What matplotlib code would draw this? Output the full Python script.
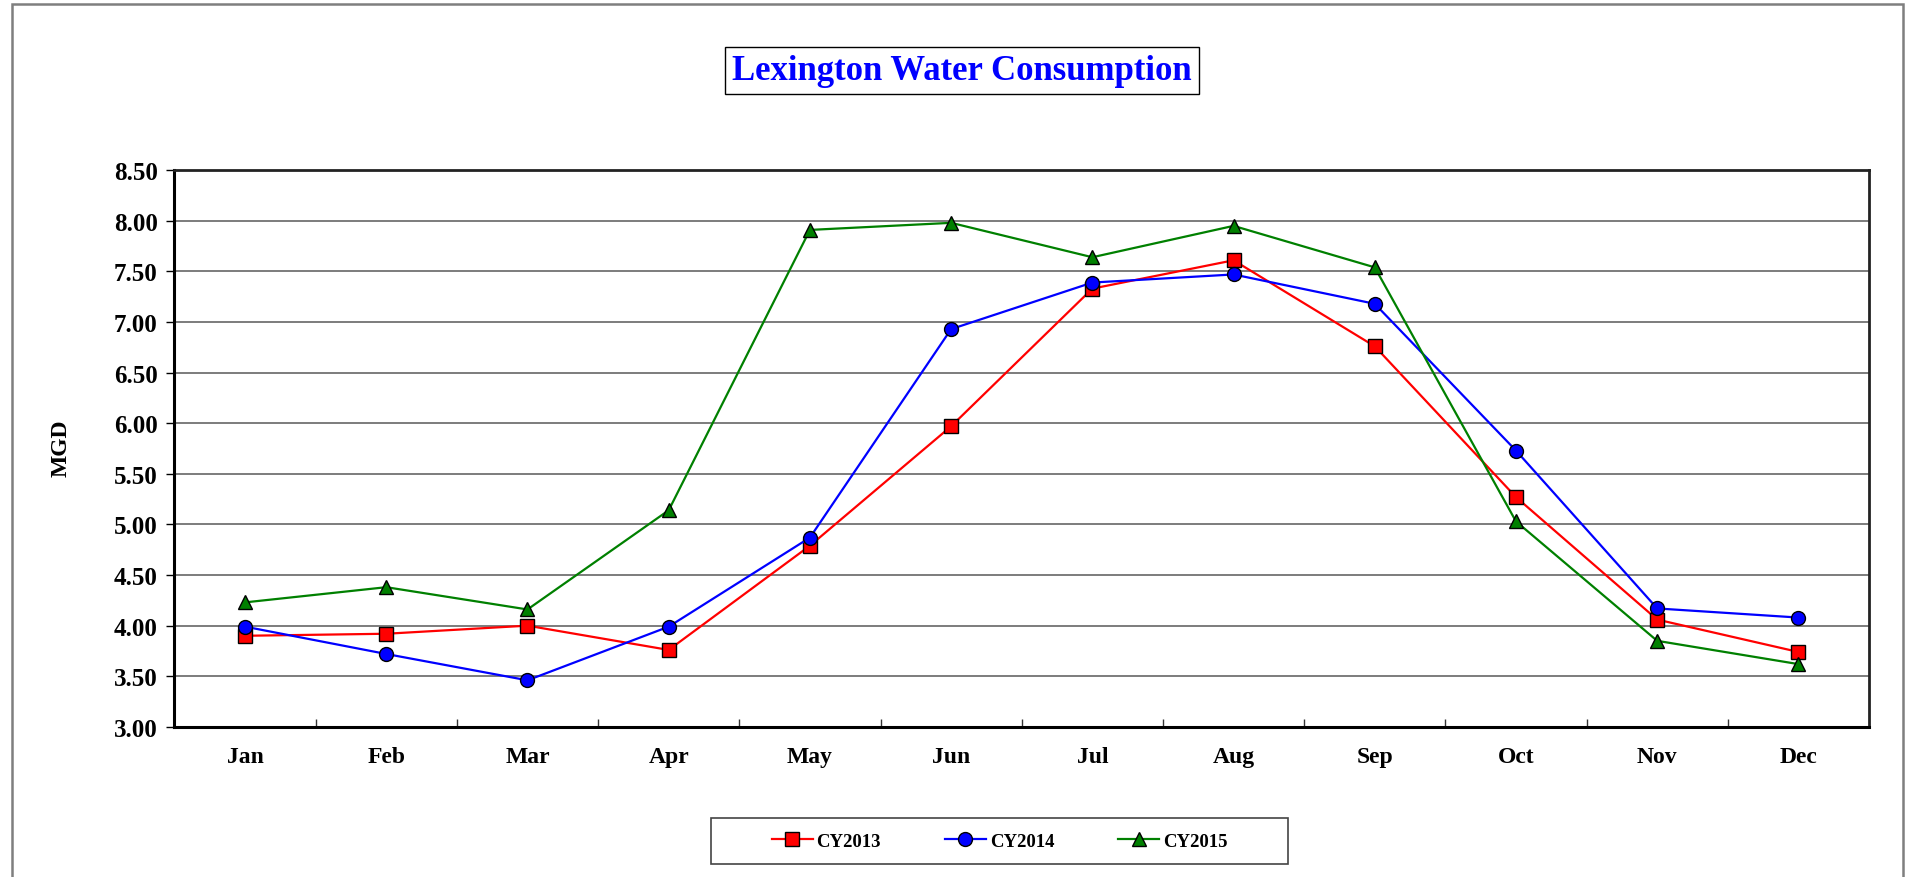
import matplotlib
matplotlib.use("Agg")
import matplotlib.pyplot as plt
from matplotlib.patches import Rectangle
from matplotlib.ticker import FixedLocator

months = ["Jan", "Feb", "Mar", "Apr", "May", "Jun", "Jul", "Aug", "Sep", "Oct", "Nov", "Dec"]
cy2013 = [3.90, 3.92, 4.00, 3.76, 4.79, 5.97, 7.33, 7.61, 6.76, 5.27, 4.06, 3.74]
cy2014 = [3.99, 3.72, 3.46, 3.99, 4.87, 6.93, 7.39, 7.47, 7.18, 5.73, 4.17, 4.08]
cy2015 = [4.23, 4.38, 4.16, 5.14, 7.91, 7.98, 7.64, 7.95, 7.54, 5.03, 3.85, 3.62]
series_names = ["CY2013", "CY2014", "CY2015"]
yticks = [3.0, 3.5, 4.0, 4.5, 5.0, 5.5, 6.0, 6.5, 7.0, 7.5, 8.0, 8.5]

plt.rcParams['font.family'] = ['Liberation Serif', 'DejaVu Serif']
plt.rcParams['font.weight'] = 'bold'

W, H = 1913, 878
fig = plt.figure(figsize=(W / 100, H / 100), dpi=100)
fig.patch.set_facecolor('white')

# outer border
fig.add_artist(Rectangle((12 / W, -0.02), (1903 - 12) / W, 1 - 5 / H + 0.02,
                         transform=fig.transFigure, fill=False,
                         edgecolor='#7f7f7f', lw=1.8, zorder=0))

ax = fig.add_axes([0.0912, 0.171, 0.977 - 0.0912, 0.805 - 0.171])
x = list(range(len(months)))
styles = [("#FF0000", "s", 9.5), ("#0000FF", "o", 10), ("#008000", "^", 10)]
for data, name, (c, m, ms) in zip([cy2013, cy2014, cy2015], series_names, styles):
    ax.plot(x, data, color=c, lw=1.6, marker=m, markersize=ms,
            markerfacecolor=c, markeredgecolor='black', markeredgewidth=1.0,
            label=name, zorder=3)

ax.set_xlim(-0.5, len(months) - 0.5)
ax.set_ylim(3.0, 8.5)
ax.set_yticks(yticks)
ax.set_yticklabels([f"{v:.2f}" for v in yticks], fontsize=18, fontweight='bold')
ax.set_xticks(x)
ax.set_xticklabels(months, fontsize=17, fontweight='bold')
ax.xaxis.set_minor_locator(FixedLocator([i + 0.5 for i in range(len(months) - 1)]))
ax.tick_params(axis='x', which='major', length=0, pad=14)
ax.tick_params(axis='x', which='minor', direction='in', length=6, width=1, color='#333333')
ax.tick_params(axis='y', which='major', direction='out', length=6, width=1, pad=6)
ax.grid(axis='y', color='#666666', lw=1.2, zorder=1)
ax.set_axisbelow(True)
for s in ['left', 'bottom']:
    ax.spines[s].set_linewidth(2.2)
    ax.spines[s].set_color('black')
for s in ['top', 'right']:
    ax.spines[s].set_linewidth(2.0)
    ax.spines[s].set_color('#222222')

fig.text(0.032, 0.49, "MGD", rotation=90, ha='center', va='center',
         fontsize=17, fontweight='bold')

fig.text(0.503, 0.919, "Lexington Water Consumption", ha='center', va='center',
         fontsize=25, fontweight='bold', color='#0000FF',
         bbox=dict(boxstyle='square,pad=0.2', facecolor='white', edgecolor='black', lw=1.0))

# legend box
fig.add_artist(Rectangle((711 / W, 1 - 865 / H), (1288 - 711) / W, (865 - 819) / H,
                         transform=fig.transFigure, fill=True, facecolor='white',
                         edgecolor='#444444', lw=1.2, zorder=1))
leg = fig.legend(loc='center', bbox_to_anchor=(999.5 / W, 1 - 842 / H), ncol=3,
                 frameon=False, prop={'size': 13.5, 'weight': 'bold'},
                 handlelength=2.2, columnspacing=3.4, handletextpad=0.2,
                 borderpad=0, borderaxespad=0)
leg.set_zorder(2)

fig.savefig("out.png", dpi=100, facecolor='white')
